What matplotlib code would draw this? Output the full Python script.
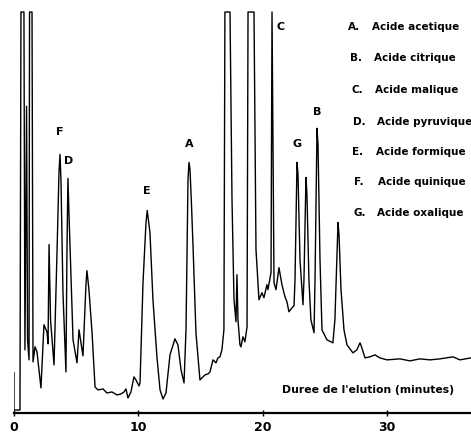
import matplotlib
matplotlib.use("Agg")
import matplotlib.pyplot as plt

# trace: elution time (min) vs detector signal (arbitrary, 100 = pen limit)
time_min = [
    0.00, 0.00, 0.48, 0.56, 0.80, 0.88, 1.01, 1.09, 1.21, 1.25, 1.45, 1.53, 1.69, 1.85,
    2.17, 2.41, 2.65, 2.74, 2.82, 2.94, 3.22, 3.46, 3.62, 3.70, 3.78, 3.94, 4.18, 4.26,
    4.34, 4.42, 4.75, 5.07, 5.23, 5.55, 5.79, 5.87, 6.03, 6.28, 6.52, 6.76, 7.16, 7.48,
    7.88, 8.29, 8.61, 8.85, 9.01, 9.17, 9.41, 9.65, 9.81, 10.06, 10.14, 10.38, 10.62, 10.72,
    10.94, 11.18, 11.50, 11.75, 11.99, 12.23, 12.55, 12.95, 13.19, 13.44, 13.68,
    13.84, 13.94, 14.00, 14.08, 14.16, 14.28, 14.40, 14.64, 14.96, 15.21, 15.37, 15.61, 15.77,
    16.01, 16.25, 16.41, 16.57, 16.73, 16.89, 16.97, 17.38, 17.54, 17.70, 17.86, 17.94, 18.02,
    18.18, 18.26, 18.42, 18.58, 18.75, 18.83, 19.31, 19.47, 19.71, 19.95, 20.11, 20.35, 20.43,
    20.68, 20.76, 20.92, 21.08, 21.32, 21.56, 21.80, 21.96, 22.12, 22.37, 22.53, 22.61, 22.77,
    22.85, 23.01, 23.25, 23.33, 23.49, 23.57, 23.73, 23.89, 24.14, 24.22, 24.38, 24.46, 24.62,
    24.78, 25.18, 25.66, 25.82, 26.07, 26.15, 26.31, 26.55, 26.79, 27.27, 27.59, 27.84, 27.99,
    28.24, 28.64, 29.04, 29.44, 30.01, 31.05, 31.86, 32.66, 33.47, 34.27, 35.32, 35.88, 36.77,
]
signal = [
    10.0, 0.75, 0.75, 100, 100, 15.75, 76.5, 18.25, 13.25, 100, 100, 12.75, 16.5, 15.25,
    6.25, 22.0, 20.25, 17.25, 42.0, 23.25, 12.0, 40.0, 60.0, 64.5, 58.0, 30.0, 10.25, 40.0,
    58.5, 50.0, 18.25, 12.5, 20.75, 14.25, 32.0, 35.5, 30.75, 20.0, 6.5, 5.75, 6.0, 5.0,
    5.25, 4.5, 4.75, 5.25, 6.0, 3.75, 5.25, 9.0, 8.25, 6.75, 7.5, 32.5, 47.5, 50.5,
    45.0, 28.25, 14.0, 5.75, 3.5, 5.0, 14.5, 18.5, 17.0, 10.75, 7.5,
    20.75, 45.0, 58.25, 62.5, 60.75, 52.0, 42.0, 20.0, 8.25, 9.0, 9.5, 9.75, 10.25,
    13.25, 12.5, 13.75, 14.0, 15.75, 20.75, 100, 100, 53.25, 28.25, 22.75, 34.5, 23.25,
    17.0, 16.5, 19.0, 17.75, 21.5, 100, 100, 40.75, 28.25, 30.0, 28.75, 32.0, 30.75,
    35.0, 100, 32.5, 30.75, 36.25, 32.0, 29.0, 27.75, 25.25, 26.25, 26.75, 33.25, 62.5,
    59.5, 38.25, 27.0, 33.25, 58.75, 54.5, 33.25, 23.25, 20.0, 33.25, 71.0, 67.0, 38.25,
    20.75, 18.25, 17.5, 23.25, 47.5, 44.5, 30.75, 20.75, 17.0, 15.0, 15.75, 17.5, 16.25,
    13.75, 14.0, 14.5, 13.75, 13.25, 13.5, 13.0, 13.5, 13.25, 13.5, 14.0, 13.25, 13.75,
]

peak_letters = ["F", "D", "E", "A", "C", "G", "B"]
peak_label_t = [3.70, 4.42, 10.70, 14.08, 21.48, 22.77, 24.38]
peak_label_y = [70.0, 62.75, 55.25, 67.0, 96.25, 67.0, 75.0]

legend_letters = ["A", "B", "C", "D", "E", "F", "G"]
legend_names = ["Acide acetique", "Acide citrique", "Acide malique", "Acide pyruvique",
                "Acide formique", "Acide quinique", "Acide oxalique"]

xticks = [0, 10, 20, 30]

fig = plt.figure(figsize=(4.71, 4.34), dpi=100)
ax = fig.add_axes([14/471, 21/434, 1 - 14/471, 0.9424])
ax.plot(time_min, signal, color="black", lw=1.0, solid_joinstyle="round")
ax.set_xlim(0, 36.77)
ax.set_ylim(0, 102)

for s in ["left", "top", "right"]:
    ax.spines[s].set_visible(False)
ax.spines["bottom"].set_linewidth(1.6)
ax.set_yticks([])
ax.set_xticks(xticks)
ax.set_xticklabels([str(v) for v in xticks], fontsize=9, fontweight="bold")
ax.tick_params(axis="x", direction="inout", length=4, width=1, pad=4)

for lt, tx, ty in zip(peak_letters, peak_label_t, peak_label_y):
    ax.text(tx, ty, lt, ha="center", va="center", fontsize=8, fontweight="bold")

# legend rows, placed by pixel position like on the original plate
row_y = [27, 58, 90, 122, 152, 182, 213]
row_x = [348, 350, 351, 353, 352, 354, 353]
for L, name, px, py in zip(legend_letters, legend_names, row_x, row_y):
    fig.text(px/471, 1 - py/434, L + ".", ha="left", va="center", fontsize=7.5, fontweight="bold")
    fig.text((px + 24)/471, 1 - py/434, name, ha="left", va="center", fontsize=7.5, fontweight="bold")

fig.text(282/471, 1 - 390/434, "Duree de l'elution (minutes)", ha="left", va="center",
         fontsize=7.8, fontweight="bold")

fig.savefig("out.png", dpi=100)
